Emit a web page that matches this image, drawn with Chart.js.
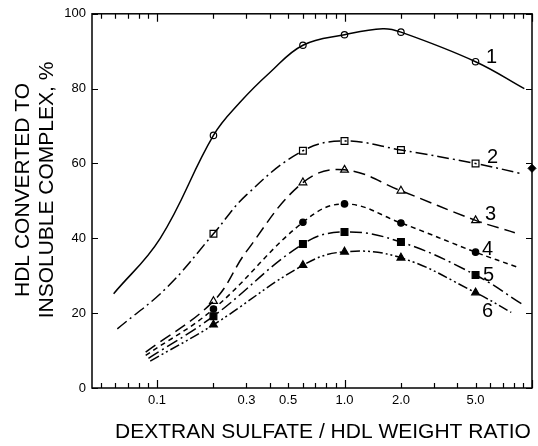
<!DOCTYPE html>
<html>
<head>
<meta charset="utf-8">
<script src="https://cdn.jsdelivr.net/npm/chart.js@4.4.0/dist/chart.umd.min.js"></script>
<style>
    html, body { margin: 0; padding: 0; background: #fff; }
</style>
</head>
<body>
<canvas id="chart" width="538" height="446"></canvas>
<script>
    "use strict";

    // Measured points (weight ratio, % converted)
    const ratios = [0.2, 0.6, 1.0, 2.0, 5.0];
    const s1 = [67.5, 91.6, 94.4, 95.1, 87.2];
    const s2 = [41.2, 63.4, 66.0, 63.6, 60.0];
    const s3 = [23.2, 54.9, 58.3, 52.7, 44.8];
    const s4 = [21.1, 44.3, 49.2, 44.1, 36.3];
    const s5 = [19.2, 38.5, 41.7, 39.0, 30.2];
    const s6 = [16.9, 32.8, 36.4, 34.8, 25.5];

    // Drawn curves, read along the lines of the figure
    const c1x = [0.0587, 0.104, 0.2, 0.278, 0.4, 0.6, 1.0, 1.6, 2.0, 5.0, 9.1];
    const c1y = [25.2, 40.0, 67.5, 76.4, 84.3, 91.6, 94.4, 96.0, 95.1, 87.2, 80.0];
    const c2x = [0.0614, 0.113, 0.2, 0.3, 0.6, 1.0, 2.0, 5.0, 8.6];
    const c2y = [15.8, 26.9, 41.2, 51.6, 63.4, 66.0, 63.6, 60.0, 57.4];
    const c3x = [0.087, 0.2, 0.3, 0.6, 1.0, 2.0, 5.0, 8.1];
    const c3y = [9.6, 23.2, 36.5, 54.9, 58.3, 52.7, 44.8, 41.5];
    const c4x = [0.087, 0.2, 0.6, 1.0, 2.0, 5.0, 8.24];
    const c4y = [8.7, 21.1, 44.3, 49.2, 44.1, 36.3, 32.4];
    const c5x = [0.09, 0.2, 0.6, 1.0, 2.0, 5.0, 8.8];
    const c5y = [7.9, 19.2, 38.5, 41.7, 39.0, 30.2, 22.5];
    const c6x = [0.092, 0.2, 0.6, 1.0, 2.0, 5.0, 7.75];
    const c6y = [7.2, 16.9, 32.8, 36.4, 34.8, 25.5, 20.2];

    // Axis ticks
    const xTickValues = [0.05, 0.06, 0.07, 0.08, 0.09, 0.1, 0.2, 0.3, 0.4, 0.5, 0.6, 0.7, 0.8, 0.9,
                         1, 2, 3, 4, 5, 6, 7, 8, 9, 10];
    const xLabelValues = [0.1, 0.3, 0.5, 1, 2, 5];
    const xLabelTexts = ["0.1", "0.3", "0.5", "1.0", "2.0", "5.0"];
    const yTickValues = [0, 20, 40, 60, 80, 100];
    const curveNames = ["1", "2", "3", "4", "5", "6"];

    const FONT = "'Liberation Sans', Arial, sans-serif";

    function pts(xs, ys) {
        return xs.map((x, i) => ({ x: x, y: ys[i] }));
    }

    const series = [s1, s2, s3, s4, s5, s6];
    const curves = [[c1x, c1y], [c2x, c2y], [c3x, c3y], [c4x, c4y], [c5x, c5y], [c6x, c6y]];
    const dashes = [[], [12, 4, 2, 4], [12, 6], [5, 4], [12, 4, 2, 4], [10, 3, 2, 3, 2, 3]];
    const markers = ["circle", "rect", "triangle", "circle", "rect", "triangle"];
    const markerFill = ["#fff", "#fff", "#fff", "#000", "#000", "#000"];
    const markerSize = [3.2, 4.8, 4.5, 3.2, 4.8, 4.5];

    let datasets = [];
    curves.forEach((c, i) => {
        datasets.push({
            type: "line",
            data: pts(c[0], c[1]),
            borderColor: "#000",
            borderWidth: 1.5,
            borderDash: dashes[i],
            pointRadius: 0,
            tension: 0.4,
            fill: false,
            clip: false
        });
    });
    series.forEach((s, i) => {
        datasets.push({
            type: "scatter",
            data: pts(ratios, s),
            showLine: false,
            pointStyle: markers[i],
            pointRadius: markerSize[i],
            pointBackgroundColor: markerFill[i],
            pointBorderColor: "#000",
            pointBorderWidth: 1.2,
            clip: false
        });
    });
    // small filled mark sitting on the right frame
    datasets.push({
        type: "scatter",
        data: [{ x: 10, y: 58.7 }],
        pointStyle: "rectRot",
        pointRadius: 4,
        pointBackgroundColor: "#000",
        pointBorderColor: "#000",
        clip: false
    });

    // Frame, inward ticks, titles and curve numbers
    const decorations = {
        id: "decorations",
        afterDraw(chart) {
            const ctx = chart.ctx;
            const a = chart.chartArea;
            const xs = chart.scales.x, ys = chart.scales.y;
            ctx.save();
            ctx.strokeStyle = "#000";
            ctx.lineWidth = 1.5;
            ctx.strokeRect(a.left, a.top, a.right - a.left, a.bottom - a.top);

            ctx.lineWidth = 1.2;
            ctx.beginPath();
            xTickValues.forEach(v => {
                const px = Math.round(xs.getPixelForValue(v)) + 0.5;
                const major = (v === 0.1 || v === 1 || v === 10);
                const len = major ? 8 : 5;
                ctx.moveTo(px, a.bottom); ctx.lineTo(px, a.bottom - len);
                ctx.moveTo(px, a.top); ctx.lineTo(px, a.top + len);
            });
            yTickValues.forEach(v => {
                const py = Math.round(ys.getPixelForValue(v)) + 0.5;
                ctx.moveTo(a.left, py); ctx.lineTo(a.left + 6, py);
                ctx.moveTo(a.right, py); ctx.lineTo(a.right - 6, py);
            });
            ctx.stroke();

            ctx.fillStyle = "#000";
            ctx.textAlign = "center";
            ctx.textBaseline = "middle";

            // curve numbers, placed beside the 5.0 points
            const offs = [[16, -4], [17, -6], [15, -6], [12, -3], [13, 0], [12, 19]];
            ctx.font = "20px " + FONT;
            series.forEach((s, i) => {
                const px = xs.getPixelForValue(ratios[4]) + offs[i][0];
                const py = ys.getPixelForValue(s[4]) + offs[i][1];
                ctx.fillText(curveNames[i], px, py);
            });

            // axis titles
            ctx.font = "21px " + FONT;
            ctx.textBaseline = "alphabetic";
            ctx.fillText("DEXTRAN SULFATE / HDL WEIGHT RATIO", 323, 438);

            ctx.translate(0, 190);
            ctx.rotate(-Math.PI / 2);
            ctx.textBaseline = "middle";
            ctx.fillText("HDL CONVERTED TO", 0, 23);
            ctx.fillText("INSOLUBLE COMPLEX, %", 0, 47);
            ctx.restore();
        }
    };

    new Chart(document.getElementById("chart").getContext("2d"), {
        data: { datasets: datasets },
        options: {
            responsive: false,
            animation: false,
            devicePixelRatio: 1,
            layout: { padding: { top: 10, right: 6, left: 0, bottom: 0 } },
            plugins: {
                legend: { display: false },
                tooltip: { enabled: false }
            },
            scales: {
                x: {
                    type: "logarithmic",
                    min: 0.045,
                    max: 10,
                    grid: { display: false, drawTicks: false },
                    border: { display: false },
                    afterFit: function (scale) { scale.height = 58; },
                    afterBuildTicks: function (scale) {
                        scale.ticks = xTickValues.map(v => ({ value: v }));
                    },
                    ticks: {
                        autoSkip: false,
                        maxRotation: 0,
                        minRotation: 0,
                        padding: 5,
                        color: "#000",
                        font: { family: FONT, size: 13 },
                        callback: function (value) {
                            const k = xLabelValues.findIndex(v => Math.abs(v - value) < 1e-9);
                            return k >= 0 ? xLabelTexts[k] : "";
                        }
                    }
                },
                y: {
                    type: "linear",
                    min: 0,
                    max: 100,
                    grid: { display: false, drawTicks: false },
                    border: { display: false },
                    afterFit: function (scale) { scale.width = 92; },
                    afterBuildTicks: function (scale) {
                        scale.ticks = yTickValues.map(v => ({ value: v }));
                    },
                    ticks: {
                        padding: 6,
                        color: "#000",
                        font: { family: FONT, size: 13 }
                    }
                }
            }
        },
        plugins: [decorations]
    });
</script>
</body>
</html>
